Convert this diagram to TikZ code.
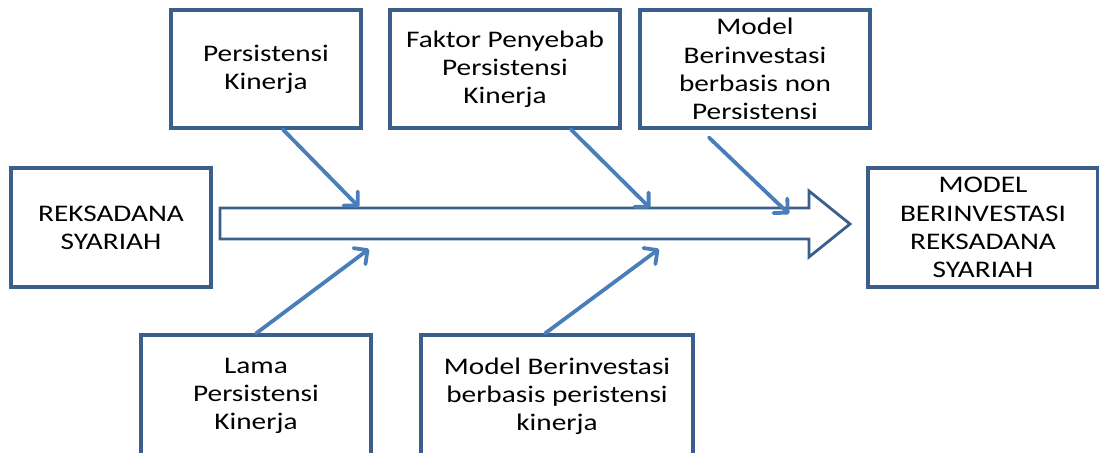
\documentclass[tikz,border=0pt]{standalone}
\usepackage{fontspec}
\setmainfont{Carlito}[FakeStretch=1.23]
\usetikzlibrary{arrows.meta}
\definecolor{boxblue}{HTML}{3A5F8B}
\definecolor{arrowblue}{HTML}{4A7EBB}
\tikzset{
	box/.style={draw=boxblue, line width=3.1pt, align=center, inner sep=0pt,
		font=\fontsize{23.8}{28.2}\selectfont},
	feed/.style={draw=arrowblue, line width=3.8pt, line cap=round,
		-{Straight Barb[length=10pt,width=20pt,round]}}
}

\begin{document}
\begin{tikzpicture}[x=1pt, y=-1pt]
		\useasboundingbox (0,0) rectangle (1099,452);
		\node[box, minimum width=190pt, minimum height=118pt] (Persistensi) at (266,69) {
			Persistensi\\Kinerja
		};
        \node[box, minimum width=230pt, minimum height=118pt] (Penyebab) at (505,69) {
            Faktor Penyebab\\Persistensi\\Kinerja
        };
        \node[box, minimum width=230pt, minimum height=118pt] (NonPersistensi) at (755,69) {
        	Model\\Berinvestasi\\berbasis non\\Persistensi
        };
        \node[box, minimum width=200pt, minimum height=119pt] (Reksadana) at (111,227.5) {
        	REKSADANA\\SYARIAH
        };
        \node[box, minimum width=230pt, minimum height=119pt] (Model) at (983,227.5) {
        	MODEL\\BERINVESTASI\\REKSADANA\\SYARIAH
        };
        \node[box, minimum width=230pt, minimum height=122pt] (Lama) at (256,396) {
        	Lama\\Persistensi\\Kinerja
        };
        \node[box, minimum width=272pt, minimum height=122pt] (Berbasis) at (557,396) {
        	Model Berinvestasi\\berbasis peristensi\\kinerja
        };
        % main arrow
        \draw[boxblue, line width=2.8pt, fill=white] (220,208) -- (809,208) -- (809,191)
        	-- (850,224) -- (809,257) -- (809,239) -- (220,239) -- cycle;
        \coordinate (tipA) at (359,207);
        \coordinate (tipB) at (650,208);
        \coordinate (tipC) at (789,214);
        \coordinate (tipD) at (369,249);
        \coordinate (tipE) at (659,249);
        \draw[feed] ([xshift=17pt]Persistensi.south) to (tipA);
        \draw[feed] ([xshift=66pt]Penyebab.south) to (tipB);
        \draw[feed] ([xshift=-46pt,yshift=-8pt]NonPersistensi.south) to (tipC);
        \draw[feed] (Lama.north) to (tipD);
        \draw[feed] ([xshift=-12pt]Berbasis.north) to (tipE);
\end{tikzpicture}
\end{document}
